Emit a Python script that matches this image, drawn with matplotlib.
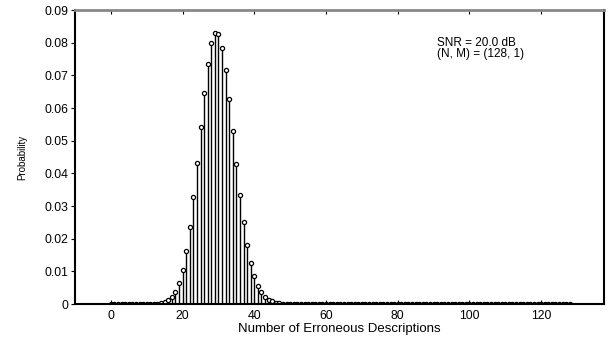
import matplotlib.pyplot as plt
import numpy as np

plt.rcParams['font.family'] = ['Liberation Sans', 'DejaVu Sans']

# number of erroneous descriptions, 0..128
errors = np.arange(0, 129)

# probability
probs = [
    0.0, 0.0, 0.0, 0.0, 0.0, 0.0, 0.0, 0.0, 0.0, 0.0,                       # 0-9
    0.0, 0.0, 0.00002, 0.00005, 0.0002, 0.0006, 0.0012, 0.0021, 0.0038, 0.0065,  # 10-19
    0.0104, 0.0162, 0.0236, 0.0327, 0.0432, 0.0541, 0.0647, 0.0736, 0.0798, 0.0829,  # 20-29
    0.0826, 0.0785, 0.0718, 0.0629, 0.0531, 0.0429, 0.0335, 0.0251, 0.0182, 0.0126,  # 30-39
    0.0085, 0.0056, 0.0037, 0.0022, 0.0012, 0.0008, 0.0004, 0.0002, 0.0001, 0.00004,  # 40-49
    0.00001, 0.0, 0.0, 0.0, 0.0, 0.0, 0.0, 0.0, 0.0, 0.0,                   # 50-59
    0.0, 0.0, 0.0, 0.0, 0.0, 0.0, 0.0, 0.0, 0.0, 0.0,                       # 60-69
    0.0, 0.0, 0.0, 0.0, 0.0, 0.0, 0.0, 0.0, 0.0, 0.0,                       # 70-79
    0.0, 0.0, 0.0, 0.0, 0.0, 0.0, 0.0, 0.0, 0.0, 0.0,                       # 80-89
    0.0, 0.0, 0.0, 0.0, 0.0, 0.0, 0.0, 0.0, 0.0, 0.0,                       # 90-99
    0.0, 0.0, 0.0, 0.0, 0.0, 0.0, 0.0, 0.0, 0.0, 0.0,                       # 100-109
    0.0, 0.0, 0.0, 0.0, 0.0, 0.0, 0.0, 0.0, 0.0, 0.0,                       # 110-119
    0.0, 0.0, 0.0, 0.0, 0.0, 0.0, 0.0, 0.0, 0.0,                            # 120-128
]

xticks = [0, 20, 40, 60, 80, 100, 120]
yticks = [0, 0.01, 0.02, 0.03, 0.04, 0.05, 0.06, 0.07, 0.08, 0.09]
ytick_labels = ['0', '0.01', '0.02', '0.03', '0.04', '0.05', '0.06', '0.07', '0.08', '0.09']

fig = plt.figure(figsize=(6.1, 3.39), dpi=100)
ax = fig.add_axes([0.123, 0.103, 0.867, 0.867])

markerline, stemlines, baseline = ax.stem(errors, probs, linefmt='k-', markerfmt='o', basefmt='k-')
plt.setp(stemlines, linewidth=1.0)
plt.setp(markerline, markersize=3.0, markerfacecolor='white', markeredgecolor='black', markeredgewidth=0.9)
plt.setp(baseline, linewidth=1.0, xdata=[0, 128])

ax.set_xlim(-10, 137.5)
ax.set_ylim(0, 0.09)
ax.set_xticks(xticks)
ax.set_yticks(yticks)
ax.set_yticklabels(ytick_labels)

ax.tick_params(axis='x', direction='in', top=True, length=3, labelsize=8.8, pad=4)
ax.tick_params(axis='y', direction='out', length=3, labelsize=8.8, pad=2)

for side in ['left', 'bottom', 'right']:
    ax.spines[side].set_linewidth(1.5)
    ax.spines[side].set_color('black')
ax.spines['top'].set_linewidth(2.0)
ax.spines['top'].set_color('#888888')

ax.set_xlabel('Number of Erroneous Descriptions', fontsize=9.5, labelpad=1)
ax.set_ylabel('Probability', fontsize=7, labelpad=12)

ax.text(91, 0.0818, 'SNR = 20.0 dB\n(N, M) = (128, 1)', fontsize=8.5,
        va='top', ha='left', linespacing=0.9)

fig.savefig('out.png', dpi=100)
